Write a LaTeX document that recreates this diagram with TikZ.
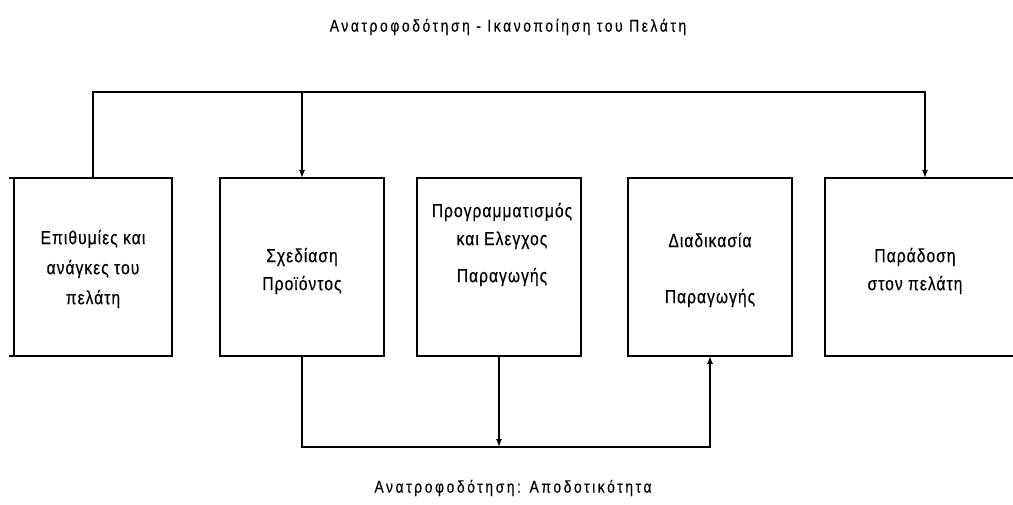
\documentclass[tikz,border=0pt]{standalone}
\usepackage{fontspec}
\setmainfont{Liberation Sans}
\newfontfamily\boxfont{Liberation Sans}[FakeStretch=0.82,LetterSpace=5.5,FakeBold=0.4]
\newfontfamily\capfont{Liberation Sans}[FakeStretch=0.82,LetterSpace=15,FakeBold=0.3]
\usetikzlibrary{arrows.meta}
\begin{document}
\begin{tikzpicture}[x=1pt,y=-1pt,
  box/.style={draw,line width=1.3pt,minimum height=178pt,inner sep=0pt,outer sep=0pt},
  lbl/.style={align=center,font=\boxfont\fontsize{19}{30}\selectfont,inner sep=0pt},
  captext/.style={align=center,font=\capfont\fontsize{17}{20}\selectfont,inner sep=0pt},
  conn/.style={line width=1.3pt},
  arr/.style={line width=1.3pt,-{Latex[length=8pt,width=6pt]}}]
\useasboundingbox (0,0) rectangle (1013,505);
\clip (0,0) rectangle (1013,505);
\node[captext] (title) at (508,27) {Ανατροφοδότηση - Ικανοποίηση του Πελάτη};
\node[box,minimum width=158pt] (b1) at (93,267) {};
\node[box,minimum width=164pt] (b2) at (302,267) {};
\node[box,minimum width=164pt] (b3) at (499,267) {};
\node[box,minimum width=164pt] (b4) at (710,267) {};
\node[box,minimum width=200pt] (b5) at (925,267) {};
\node[lbl] (t1) at (93,269) {Επιθυμίες και\\ανάγκες του\\πελάτη};
\node[lbl,font=\boxfont\fontsize{19}{28}\selectfont] (t2) at (302,271) {Σχεδίαση\\Προϊόντος};
\node[lbl,font=\boxfont\fontsize{19}{28}\selectfont] (t3a) at (502,226) {Προγραμματισμός\\και Ελεγχος};
\node[lbl] (t3b) at (502,277) {Παραγωγής};
\node[lbl] (t4a) at (710,240) {Διαδικασία};
\node[lbl] (t4b) at (710,298) {Παραγωγής};
\node[lbl,font=\boxfont\fontsize{19}{28}\selectfont] (t5) at (915,271) {Παράδοση\\στον πελάτη};
\node[captext] (bottom) at (513,488) {Ανατροφοδότηση: Αποδοτικότητα};
\coordinate (top) at (0,92);
\coordinate (bot) at (0,447);
\draw[conn] (b1.north west) -- ++(-5,0);
\draw[conn] (b1.south west) -- ++(-5,0);
\draw[arr] (b1.north) |- (b5.north |- top) -- (b5.north);
\draw[arr] (b2.north |- top) -- (b2.north);
\draw[arr] (b2.south) |- (b4.south |- bot) -- (b4.south);
\draw[arr] (b3.south) -- (b3.south |- bot);
\end{tikzpicture}
\end{document}
